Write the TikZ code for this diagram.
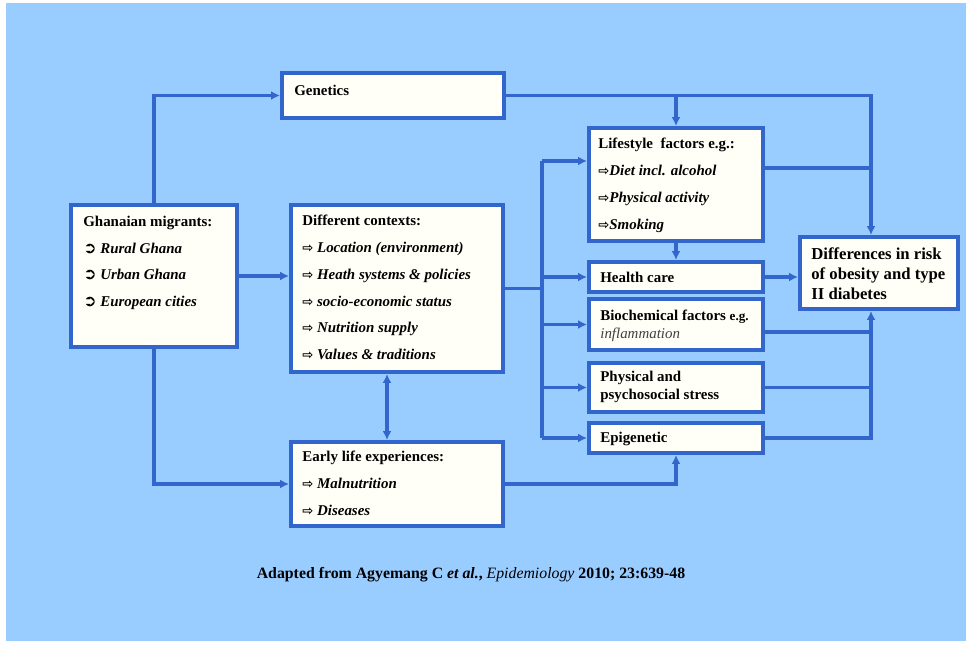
\documentclass[tikz,border=0pt]{standalone}
\usepackage{fontspec}
\setmainfont{Liberation Serif}
\newfontfamily\symfont{DejaVu Sans}
\usetikzlibrary{positioning,arrows.meta}

\newcommand{\itemarrow}{{\symfont\fontsize{7.5}{7.5}\selectfont ⇨}}
\newcommand{\migbullet}{{\symfont\fontsize{9}{9}\selectfont ➲}}

\begin{document}
\begin{tikzpicture}[x=0.02cm, y=-0.02cm, >={Latex[length=5pt,width=5pt]}]
	% Define colors
	\definecolor{slidebg}{RGB}{153, 204, 255}
	\definecolor{linkblue}{RGB}{51, 102, 204}
	\definecolor{boxfill}{RGB}{255, 255, 247}

	% Styles
	\tikzstyle{box} = [draw=linkblue, fill=boxfill, line width=2.3pt, inner sep=0pt]
	\tikzstyle{link} = [draw=linkblue, line width=1.8pt]
	\tikzstyle{txt} = [anchor=north west, align=left, inner sep=0pt, font=\bfseries\fontsize{8.5}{15.3}\selectfont]
	\tikzstyle{pair} = [txt, font=\bfseries\fontsize{8.5}{10.2}\selectfont]
	\tikzstyle{single} = [anchor=west, inner sep=0pt, font=\bfseries\fontsize{8.5}{10}\selectfont]

	% Slide background
	\useasboundingbox (0,0) rectangle (970,646);
	\fill[slidebg] (6,3) rectangle (966,641);

	% Boxes
	\node[box, minimum width=3.32cm, minimum height=2.84cm] (mig) at (154,276) {};
	\node[box, minimum width=4.44cm, minimum height=0.9cm] (gen) at (393,95.5) {};
	\node[box, minimum width=4.24cm, minimum height=3.34cm] (ctx) at (397,288.5) {};
	\node[box, minimum width=4.24cm, minimum height=1.68cm] (early) at (397,484) {};
	\node[box, minimum width=3.48cm, minimum height=2.26cm] (life) at (676,184.5) {};
	\node[box, minimum width=3.48cm, minimum height=0.6cm] (hc) at (676,277) {};
	\node[box, minimum width=3.48cm, minimum height=1.02cm] (bio) at (676,324.5) {};
	\node[box, minimum width=3.48cm, minimum height=0.98cm] (phys) at (676,387.5) {};
	\node[box, minimum width=3.48cm, minimum height=0.6cm] (epi) at (676,438) {};
	\node[box, minimum width=3.16cm, minimum height=1.44cm] (diff) at (879,273) {};

	% Box texts
	\node[txt] (mig-txt) at ([shift={(14,12.5)}]mig.north west) {Ghanaian migrants:\\
		\migbullet\ \textit{Rural Ghana}\\
		\migbullet\ \textit{Urban Ghana}\\
		\migbullet\ \textit{European cities}};
	\node[txt] (gen-txt) at ([shift={(14,13.5)}]gen.north west) {Genetics};
	\node[txt] (ctx-txt) at ([shift={(13,11.5)}]ctx.north west) {Different contexts:\\
		\itemarrow\ \textit{Location (environment)}\\
		\itemarrow\ \textit{Heath systems \& policies}\\
		\itemarrow\ \textit{socio-economic status}\\
		\itemarrow\ \textit{Nutrition supply}\\
		\itemarrow\ \textit{Values \& traditions}};
	\node[txt] (early-txt) at ([shift={(13,10.5)}]early.north west) {Early life experiences:\\
		\itemarrow\ \textit{Malnutrition}\\
		\itemarrow\ \textit{Diseases}};
	\node[txt] (life-txt) at ([shift={(11,11.5)}]life.north west) {Lifestyle\ \ factors e.g.:\\
		\itemarrow\textit{Diet incl. alcohol}\\
		\itemarrow\textit{Physical activity}\\
		\itemarrow\textit{Smoking}};
	\node[single] (hc-txt) at ([shift={(13,0)}]hc.west) {Health care};
	\node[pair] (bio-txt) at ([shift={(13,12.5)}]bio.north west) {Biochemical factors {\fontsize{7.5}{10.2}\selectfont e.g.}\\
		{\mdseries\itshape\color{black!75}inflammation}};
	\node[pair] (phys-txt) at ([shift={(13,9.5)}]phys.north west) {Physical and\\ psychosocial stress};
	\node[single] (epi-txt) at ([shift={(13,1)}]epi.west) {Epigenetic};
	\node[txt, font=\bfseries\fontsize{9.5}{11.3}\selectfont] (diff-txt) at ([shift={(13,12.5)}]diff.north west) {Differences in risk\\ of obesity and type\\ II diabetes};

	% Bus coordinates
	\coordinate (lbus) at (542,283);
	\coordinate (rbus) at (871,277);
	\coordinate (lifein) at ([yshift=0.47cm]life.west);
	\coordinate (lifeout) at ([yshift=0.33cm]life.east);
	\coordinate (bioout) at ([yshift=-0.15cm]bio.east);

	% Migrants to genetics, contexts and early life
	\draw[link,->] (mig.north) |- (gen.west);
	\draw[link,->] (mig.east) -- (mig.east -| ctx.west);
	\draw[link,->] (mig.south) |- (early.west);
	\draw[link,<->] ([xshift=-0.2cm]ctx.south) -- ([xshift=-0.2cm]early.north);

	% Genetics
	\draw[link,->] (gen.east) -| (diff.north -| rbus);
	\draw[link,->] (gen.east -| life.north) -- (life.north);

	% Contexts to the middle column
	\draw[link] (ctx.east) -- (ctx.east -| lbus);
	\draw[link] (lbus |- lifein) -- (lbus |- epi.west);
	\draw[link,->] (lbus |- lifein) -- (lifein);
	\foreach \b in {hc,bio,phys,epi}
		\draw[link,->] (lbus |- \b.west) -- (\b.west);
	\draw[link,->] (life.south) -- (hc.north);
	\draw[link,->] (early.east) -| (epi.south);

	% Middle column to outcome
	\draw[link] (lifeout) -- (lifeout -| rbus);
	\draw[link,->] (hc.east) -- (hc.east -| diff.west);
	\draw[link] (bioout) -- (bioout -| rbus);
	\draw[link] (phys.east) -- (phys.east -| rbus);
	\draw[link,->] (epi.east) -| (diff.south -| rbus);

	% Source
	\node[font=\bfseries\fontsize{9}{11}\selectfont] (cite) at (471,575) {Adapted from Agyemang C \textit{et al.}, {\mdseries\itshape Epidemiology} 2010; 23:639-48};

\end{tikzpicture}
\end{document}
